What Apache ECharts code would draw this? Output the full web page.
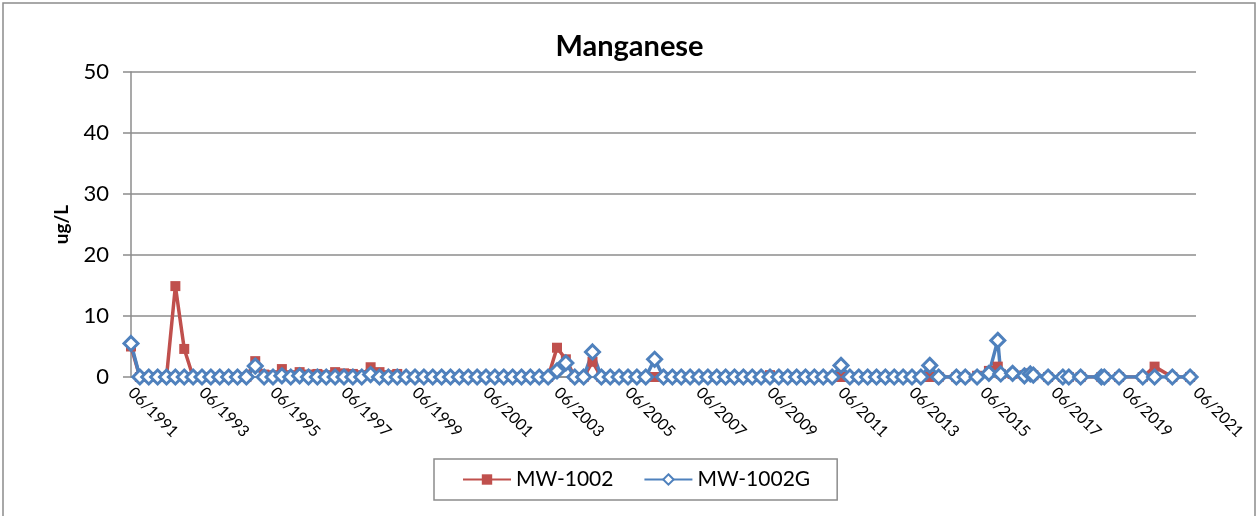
<!DOCTYPE html>
<html>
<head>
<meta charset="utf-8">
<script src="https://cdn.jsdelivr.net/npm/echarts@6/dist/echarts.min.js"></script>
<style>
  html, body { margin: 0; padding: 0; background: #fff; }
  #chart { width: 1259px; height: 516px; }
</style>
</head>
<body>
<div id="chart"></div>
<script>
// sampling dates (YYYY-MM)
const dates = [
  '1991-06', '1991-09', '1991-12',
  '1992-03', '1992-06', '1992-09', '1992-12',
  '1993-03', '1993-06', '1993-09', '1993-12',
  '1994-03', '1994-06', '1994-09', '1994-12',
  '1995-03', '1995-06', '1995-09', '1995-12',
  '1996-03', '1996-06', '1996-09', '1996-12',
  '1997-03', '1997-06', '1997-09', '1997-12',
  '1998-03', '1998-06', '1998-09', '1998-12',
  '1999-03', '1999-06', '1999-09', '1999-12',
  '2000-03', '2000-06', '2000-09', '2000-12',
  '2001-03', '2001-06', '2001-09', '2001-12',
  '2002-03', '2002-06', '2002-09', '2002-12',
  '2003-03', '2003-06', '2003-09', '2003-12',
  '2004-03', '2004-06', '2004-09', '2004-12',
  '2005-03', '2005-06', '2005-09', '2005-12',
  '2006-03', '2006-06', '2006-09', '2006-12',
  '2007-03', '2007-06', '2007-09', '2007-12',
  '2008-03', '2008-06', '2008-09', '2008-12',
  '2009-03', '2009-06', '2009-09', '2009-12',
  '2010-03', '2010-06', '2010-09', '2010-12',
  '2011-03', '2011-06', '2011-09', '2011-12',
  '2012-03', '2012-06', '2012-09', '2012-12',
  '2013-03', '2013-06', '2013-09', '2013-12',
  '2014-03', '2014-09', '2014-12',
  '2015-04', '2015-08', '2015-11', '2015-12',
  '2016-04', '2016-08', '2016-10', '2016-11',
  '2017-04', '2017-09', '2017-11',
  '2018-03', '2018-10', '2018-11',
  '2019-04', '2019-12',
  '2020-04', '2020-10',
  '2021-04'
];

const mw1002 = [
  5.0, 0, 0,
  0, 0, 14.9, 4.6,
  0, 0, 0, 0,
  0, 0, 0, 2.6,
  0.4, 0.3, 1.3, 0.3,
  0.8, 0.4, 0.5, 0.3,
  0.8, 0.6, 0.5, 0.3,
  1.6, 0.8, 0.3, 0.5,
  0, 0, 0, 0,
  0, 0, 0, 0,
  0, 0, 0, 0,
  0, 0, 0, 0,
  0, 4.8, 2.9, 0,
  0, 2.5, 0, 0,
  0, 0, 0, 0,
  0, 0, 0, 0,
  0, 0, 0, 0,
  0, 0, 0, 0,
  0, 0.3, 0, 0,
  0, 0, 0, 0,
  0, 0, 0, 0,
  0, 0, 0, 0,
  0, 0, 0, 0,
  0, 0, 0,
  0.2, 1.0, 1.7, 0.5,
  0.5, 0.3, 0.6, 0.3,
  0, 0, 0,
  0, 0, 0,
  0, 0,
  1.7, 0,
  0
];

const mw1002g = [
  5.5, 0, 0,
  0, 0, 0, 0,
  0, 0, 0, 0,
  0, 0, 0, 1.8,
  0, 0, 0.2, 0,
  0.2, 0, 0, 0,
  0, 0, 0, 0,
  0.4, 0, 0, 0,
  0, 0, 0, 0,
  0, 0, 0, 0,
  0, 0, 0, 0,
  0, 0, 0, 0,
  0, 1.0, 2.3, 0,
  0, 4.1, 0, 0,
  0, 0, 0, 0,
  2.9, 0, 0, 0,
  0, 0, 0, 0,
  0, 0, 0, 0,
  0, 0, 0, 0,
  0, 0, 0, 0,
  0, 1.9, 0, 0,
  0, 0, 0, 0,
  0, 0, 0, 1.9,
  0, 0, 0,
  0, 0.6, 6.0, 0.5,
  0.6, 0.2, 0.5, 0.3,
  0, 0, 0,
  0, 0, 0,
  0, 0,
  0, 0,
  0
];

// x axis runs in months counted from 06/1991
const startYear = 1991, startMonth = 6;
const toMonths = d => {
  const [y, m] = d.split('-').map(Number);
  return (y - startYear) * 12 + (m - startMonth);
};

const font = 'Lato, "Open Sans", sans-serif';
const chart = echarts.init(document.getElementById('chart'));

chart.setOption({
  backgroundColor: '#fff',
  animation: false,
  graphic: [{
    type: 'rect',
    shape: { x: 3, y: 3, width: 1252, height: 530 },
    style: { fill: 'none', stroke: '#8c8c8c', lineWidth: 1.5 },
    silent: true
  }],
  title: {
    text: 'Manganese',
    left: 'center',
    top: 27,
    textStyle: { fontFamily: font, fontSize: 29, fontWeight: 'bold', color: '#000' }
  },
  grid: { left: 131, right: 63, top: 72, bottom: 139 },
  legend: {
    left: 434,
    top: 459,
    padding: [10, 27, 10, 28],
    itemGap: 30,
    itemWidth: 48,
    itemHeight: 13,
    borderColor: '#8c8c8c',
    borderWidth: 1.5,
    textStyle: { fontFamily: font, fontSize: 21, color: '#000' },
    data: ['MW-1002', 'MW-1002G']
  },
  xAxis: {
    type: 'value',
    min: 0,
    max: 360,
    interval: 24,
    axisLine: { show: true, onZero: false, lineStyle: { color: '#8c8c8c', width: 1.5 } },
    axisTick: { show: false },
    splitLine: { show: false },
    axisLabel: {
      rotate: -45,
      margin: 13,
      fontFamily: font,
      fontSize: 16,
      color: '#000',
      formatter: v => '06/' + (startYear + v / 12)
    }
  },
  yAxis: {
    type: 'value',
    min: 0,
    max: 50,
    interval: 10,
    name: 'ug/L',
    nameLocation: 'middle',
    nameGap: 60,
    nameTextStyle: { fontFamily: font, fontSize: 19, fontWeight: 'bold', color: '#000' },
    axisLine: { show: true, lineStyle: { color: '#8c8c8c', width: 1.5 } },
    axisTick: { show: true, length: 8, lineStyle: { color: '#8c8c8c', width: 1.5 } },
    splitLine: { lineStyle: { color: '#8c8c8c', width: 1.5 } },
    axisLabel: { margin: 22, fontFamily: font, fontSize: 22, color: '#000' }
  },
  series: [
    {
      name: 'MW-1002',
      type: 'line',
      data: dates.map((d, i) => [toMonths(d), mw1002[i]]),
      symbol: 'rect',
      symbolSize: 10,
      showAllSymbol: true,
      lineStyle: { color: '#C0504D', width: 3.5 },
      itemStyle: { color: '#C0504D' }
    },
    {
      name: 'MW-1002G',
      type: 'line',
      data: dates.map((d, i) => [toMonths(d), mw1002g[i]]),
      symbol: 'diamond',
      symbolSize: 14,
      showAllSymbol: true,
      lineStyle: { color: '#4F81BD', width: 3.5 },
      itemStyle: { color: '#fff', borderColor: '#4F81BD', borderWidth: 3 }
    }
  ]
});
</script>
</body>
</html>
